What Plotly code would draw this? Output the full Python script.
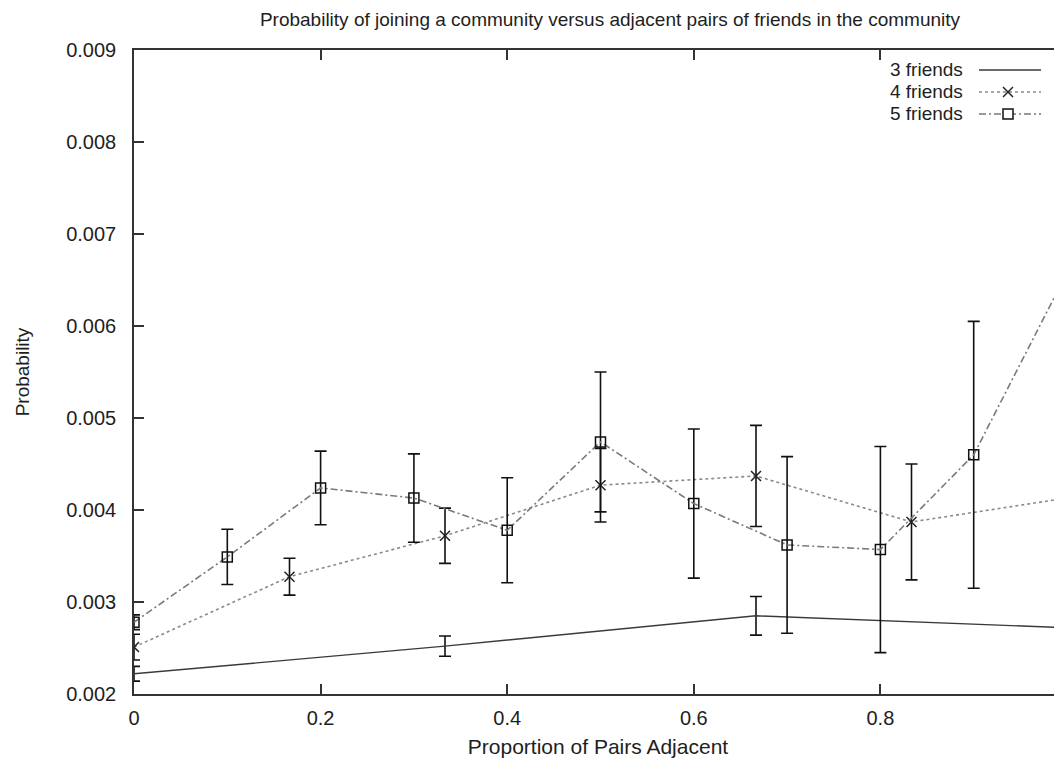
import plotly.graph_objects as go

# ---- data ----
x3 = [0, 1/3, 2/3, 1.0]
y3 = [0.00222, 0.00252, 0.00285, 0.00272]
e3 = [0.00008, 0.00011, 0.00021, 0.00022]

x4 = [0, 1/6, 1/3, 1/2, 2/3, 5/6, 1.0]
y4 = [0.00251, 0.003275, 0.00372, 0.00427, 0.00437, 0.00387, 0.00413]
e4 = [0.00014, 0.0002, 0.0003, 0.0004, 0.00055, 0.00063, 0.0005]

x5 = [0, 0.1, 0.2, 0.3, 0.4, 0.5, 0.6, 0.7, 0.8, 0.9, 1.0]
y5 = [0.00278, 0.00349, 0.00424, 0.00413, 0.00378, 0.00474, 0.00407, 0.00362, 0.00357, 0.0046, 0.00658]
e5 = [0.00008, 0.0003, 0.0004, 0.00048, 0.00057, 0.00076, 0.00081, 0.00096, 0.00112, 0.00145, 0.00174]

series_names = ["3 friends", "4 friends", "5 friends"]
x_tickvals = [0, 0.2, 0.4, 0.6, 0.8]
x_ticktext = ["0", "0.2", "0.4", "0.6", "0.8"]
y_tickvals = [0.002, 0.003, 0.004, 0.005, 0.006, 0.007, 0.008, 0.009]
y_ticktext = ["0.002", "0.003", "0.004", "0.005", "0.006", "0.007", "0.008", "0.009"]

FONT = "Liberation Sans, Arial, sans-serif"
TXT = "#1e1e1e"
AX = "#333333"

# the page body adds an 8px offset, so the figure is 8px smaller and margins shifted
OFF = 8
W, H = 1062 - OFF, 760 - OFF
PLOT_L, PLOT_R, PLOT_T, PLOT_B = 134, 1062, 50, 694   # page pixels of the plot box
L, R, T, B = PLOT_L - OFF, (1062 - PLOT_R), PLOT_T - OFF, H - (PLOT_B - OFF)
PW, PH = PLOT_R - PLOT_L, PLOT_B - PLOT_T

err = dict(type="data", color="#111111", thickness=1.6, width=6)

fig = go.Figure()
fig.add_trace(go.Scatter(
    x=x3, y=y3, mode="lines", name=series_names[0],
    line=dict(color="#3a3a3a", width=1.4),
    error_y=dict(array=e3, **err), showlegend=False))
fig.add_trace(go.Scatter(
    x=x4, y=y4, mode="lines+markers", name=series_names[1],
    line=dict(color="#8a8a8a", width=1.6, dash="3px,3px"),
    marker=dict(symbol="x-thin-open", size=10, color="#222",
                line=dict(color="#222", width=1.5)),
    error_y=dict(array=e4, **err), showlegend=False))
fig.add_trace(go.Scatter(
    x=x5, y=y5, mode="lines+markers", name=series_names[2],
    line=dict(color="#7a7a7a", width=1.6, dash="7px,3px,2px,3px"),
    marker=dict(symbol="square-open", size=10, color="#111",
                line=dict(color="#111", width=1.5)),
    error_y=dict(array=e5, **err), showlegend=False))

# ---- custom gnuplot-style key (text left, sample right) ----
def px_x(p):
    return (p - PLOT_L) / PW

def px_y(p):
    return (PLOT_B - p) / PH

rows = [70, 92, 114]
text_right = 965
s0, s1, smid = 979, 1041, 1008
styles = [
    dict(color="#3a3a3a", width=1.6, dash="solid"),
    dict(color="#8a8a8a", width=1.6, dash="3px,3px"),
    dict(color="#7a7a7a", width=1.6, dash="7px,3px,2px,3px"),
]
annotations = []
shapes = []
for i, (name, ry) in enumerate(zip(series_names, rows)):
    annotations.append(dict(
        x=px_x(text_right), y=px_y(ry), xref="paper", yref="paper",
        xanchor="right", yanchor="middle", text=name, showarrow=False,
        font=dict(family=FONT, size=19, color=TXT)))
    shapes.append(dict(type="line", xref="paper", yref="paper",
                       x0=px_x(s0), x1=px_x(s1), y0=px_y(ry), y1=px_y(ry),
                       line=styles[i]))
shapes.append(dict(type="line", xref="paper", yref="paper",
                   xsizemode="pixel", ysizemode="pixel",
                   xanchor=px_x(smid), yanchor=px_y(rows[1]),
                   x0=-5, x1=5, y0=-5, y1=5, line=dict(color="#222", width=1.5)))
shapes.append(dict(type="line", xref="paper", yref="paper",
                   xsizemode="pixel", ysizemode="pixel",
                   xanchor=px_x(smid), yanchor=px_y(rows[1]),
                   x0=-5, x1=5, y0=5, y1=-5, line=dict(color="#222", width=1.5)))
shapes.append(dict(type="rect", xref="paper", yref="paper",
                   xsizemode="pixel", ysizemode="pixel",
                   xanchor=px_x(smid), yanchor=px_y(rows[2]),
                   x0=-5, x1=5, y0=-5, y1=5, fillcolor="white",
                   line=dict(color="#111", width=1.5)))

fig.update_layout(
    width=W, height=H,
    margin=dict(l=L, r=R, t=T, b=B, pad=0, autoexpand=False),
    paper_bgcolor="white", plot_bgcolor="white",
    font=dict(family=FONT, size=21, color=TXT),
    title=dict(text="Probability of joining a community versus adjacent pairs of friends in the community",
               x=(610 - OFF) / W, xanchor="center", y=1 - (19 - OFF) / H, yanchor="middle",
               font=dict(family=FONT, size=19, color=TXT)),
    xaxis=dict(range=[0, (PLOT_R - PLOT_L) / 933.0], tickvals=x_tickvals, ticktext=x_ticktext,
               ticks="inside", ticklen=10, tickwidth=1.5, tickcolor=AX,
               showline=True, linecolor=AX, linewidth=1.5, mirror="ticks",
               showgrid=False, zeroline=False, automargin=False,
               tickfont=dict(family=FONT, size=20, color=TXT),
               ticklabelstandoff=5,
               title=dict(text="Proportion of Pairs Adjacent", standoff=12,
                          font=dict(family=FONT, size=21, color=TXT))),
    yaxis=dict(range=[0.002, 0.009], tickvals=y_tickvals, ticktext=y_ticktext,
               ticks="inside", ticklen=10, tickwidth=1.5, tickcolor=AX,
               showline=True, linecolor=AX, linewidth=1.5, mirror=False,
               showgrid=False, zeroline=False, automargin=False,
               tickfont=dict(family=FONT, size=20, color=TXT),
               ticklabelstandoff=12,
               title=dict(text="Probability", standoff=32,
                          font=dict(family=FONT, size=19, color=TXT))),
    yaxis2=dict(range=[0.002, 0.009], tickvals=y_tickvals, overlaying="y", side="right",
                ticks="inside", ticklen=5, tickwidth=1.5, tickcolor=AX,
                showticklabels=False, showline=False, showgrid=False, zeroline=False,
                automargin=False),
    annotations=annotations, shapes=shapes, showlegend=False,
)

fig.write_html("out.html")
